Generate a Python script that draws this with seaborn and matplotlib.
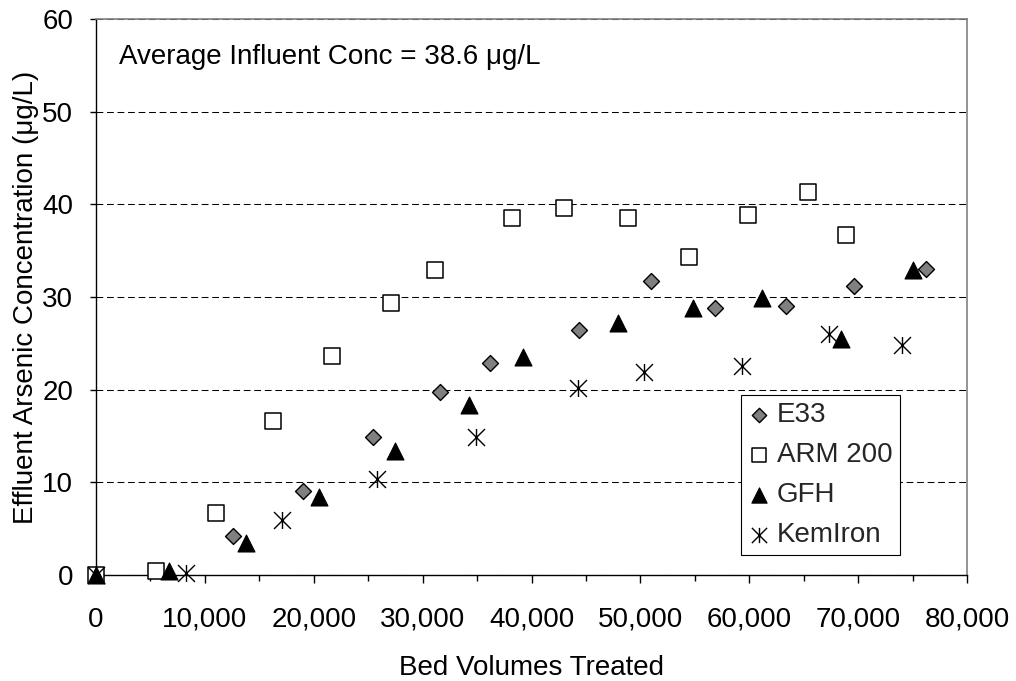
import matplotlib
matplotlib.use("Agg")
import matplotlib.pyplot as plt
from matplotlib.path import Path
from matplotlib.ticker import MultipleLocator, FuncFormatter
import seaborn as sns

# Bed volumes treated and effluent arsenic (ug/L) for each media
e33_bv = [0, 12600, 19000, 25400, 31600, 36200, 44400, 51000, 56900, 63400, 69600, 76200]
e33_as = [0, 4.2, 9.1, 14.9, 19.8, 22.9, 26.4, 31.7, 28.8, 29.0, 31.2, 33.0]

arm_bv = [0, 5500, 11000, 16300, 21700, 27100, 31100, 38200, 43000, 48900, 54500, 59900, 65400, 68900]
arm_as = [0, 0.4, 6.7, 16.6, 23.6, 29.3, 32.9, 38.5, 39.6, 38.5, 34.3, 38.8, 41.3, 36.7]

gfh_bv = [0, 6700, 13800, 20500, 27500, 34300, 39200, 47900, 54800, 61200, 68400, 75000]
gfh_as = [0, 0.4, 3.4, 8.4, 13.4, 18.3, 23.5, 27.2, 28.8, 29.9, 25.5, 32.9]

kem_bv = [0, 8300, 17100, 25800, 34900, 44300, 50300, 59300, 67300, 74000]
kem_as = [0, 0.2, 5.9, 10.4, 14.9, 20.2, 21.9, 22.6, 26.0, 24.8]

series_names = ["E33", "ARM 200", "GFH", "KemIron"]
x_ticks_max = 80000
y_ticks_max = 60

sns.set_theme(style="white")
plt.rcParams["font.family"] = ["Liberation Sans", "DejaVu Sans"]
plt.rcParams["axes.unicode_minus"] = False

fig = plt.figure(figsize=(10.16, 6.81), dpi=100)
ax = fig.add_axes([96 / 1016, 1 - 575 / 681, 871 / 1016, 556 / 681])

# asterisk: vertical bar plus an X
star = Path([(0, -1), (0, 1), (-1, -1), (1, 1), (-1, 1), (1, -1)],
            [Path.MOVETO, Path.LINETO] * 3)

styles = [
    dict(marker="D", s=66, color="#808080", edgecolor="black", linewidth=1.0),
    dict(marker="s", s=117, color="white", edgecolor="black", linewidth=1.1),
    dict(marker="^", s=149, color="black", edgecolor="black", linewidth=0.8),
    dict(marker=star, s=149, color="black", edgecolor="black", linewidth=1.0),
]
data = [(e33_bv, e33_as), (arm_bv, arm_as), (gfh_bv, gfh_as), (kem_bv, kem_as)]

for name, (bv, conc), st in zip(series_names, data, styles):
    sns.scatterplot(x=bv, y=conc, ax=ax, label=name, clip_on=False, zorder=3, **st)

ax.set_xlim(0, x_ticks_max)
ax.set_ylim(0, y_ticks_max)
ax.xaxis.set_major_locator(MultipleLocator(10000))
ax.xaxis.set_minor_locator(MultipleLocator(5000))
ax.yaxis.set_major_locator(MultipleLocator(10))
ax.xaxis.set_major_formatter(FuncFormatter(lambda v, p: f"{v:,.0f}"))

ax.tick_params(axis="both", which="both", direction="out", color="black",
               width=1.0, labelsize=20, labelcolor="black")
ax.tick_params(axis="x", which="major", bottom=True, length=5.5, pad=17.5)
ax.tick_params(axis="x", which="minor", bottom=True, length=4.5)
ax.tick_params(axis="y", which="major", left=True, length=4.5, pad=12)

for side in ("left", "bottom"):
    ax.spines[side].set_color("black")
    ax.spines[side].set_linewidth(1.0)
for side in ("top", "right"):
    ax.spines[side].set_color("#808080")
    ax.spines[side].set_linewidth(1.2)

ax.yaxis.grid(True, linestyle=(0, (6.5, 3.6)), color="black", linewidth=0.75)
ax.xaxis.grid(False)

ax.text(0.0264, 0.919, "Average Influent Conc = 38.6 \u03bcg/L", transform=ax.transAxes,
        fontsize=20, ha="left", va="baseline", color="black")

ax.set_xlabel("Bed Volumes Treated", fontsize=20, color="black")
ax.set_ylabel("Effluent Arsenic Concentration (\u03bcg/L)", fontsize=20, color="black")
ax.xaxis.set_label_coords(0.5, -0.1439)
ax.yaxis.set_label_coords(-0.0654, 0.5)

handles, labels = ax.get_legend_handles_labels()
leg = ax.legend(handles, labels, loc="lower left", bbox_to_anchor=(0.7405, 0.036),
                borderaxespad=0, frameon=True, fancybox=False, framealpha=1,
                edgecolor="black", fontsize=20, handlelength=0.8,
                handletextpad=0.25, borderpad=0.25, labelspacing=0.5,
                markerscale=0.9)
leg.get_frame().set_linewidth(0.8)
leg.set_zorder(5)

fig.savefig("out.png", dpi=100)
